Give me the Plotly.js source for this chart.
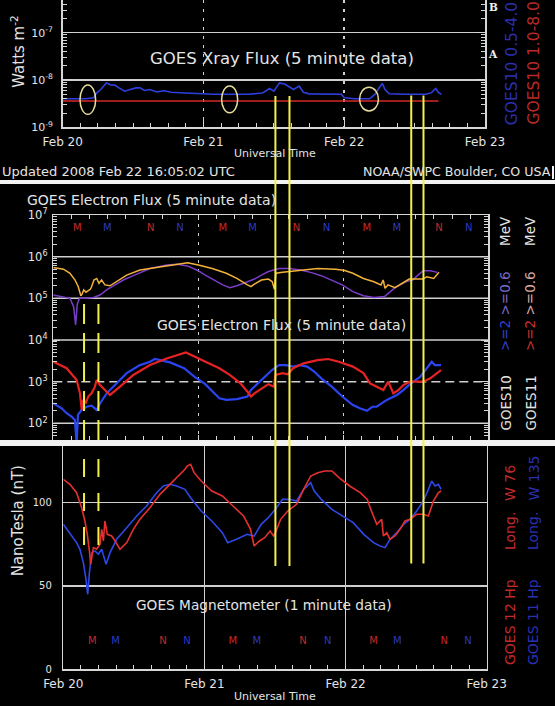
<!DOCTYPE html>
<html><head><meta charset="utf-8">
<script src="https://cdn.plot.ly/plotly-3.0.1.min.js"></script>
<style>html,body{margin:0;padding:0;background:#000;}#chart{width:555px;height:706px;}</style>
</head><body><div id="chart"></div>
<script>
// ---------- DATA (time = days since 2008 Feb 20 00:00 UT) ----------
const dayTicks = [0, 1, 2, 3];
const dayLabels = ['Feb 20', 'Feb 21', 'Feb 22', 'Feb 23'];

// GOES Xray flux (W m^-2)
const xrayShortTime = [0.00,0.16,0.22,0.24,0.27,0.29,0.31,0.34,0.37,0.40,0.44,0.48,0.52,0.55,0.58,0.62,0.67,0.72,0.77,0.87,0.97,1.07,1.20,1.32,1.42,1.47,1.50,1.54,1.58,1.61,1.64,1.68,1.71,1.75,1.88,1.98,2.00,2.08,2.18,2.22,2.24,2.27,2.29,2.32,2.43,2.58,2.62,2.65,2.67,2.69];
const xrayShort = [4.0e-9,4.0e-9,4.2e-9,5.3e-9,6.3e-9,7.6e-9,8.7e-9,7.9e-9,7.8e-9,6.8e-9,5.8e-9,6.3e-9,6.8e-9,6.8e-9,6.0e-9,6.3e-9,5.6e-9,5.9e-9,5.5e-9,5.3e-9,5.1e-9,5.0e-9,5.0e-9,5.0e-9,5.3e-9,6.6e-9,5.8e-9,8.7e-9,8.1e-9,7.1e-9,6.3e-9,7.4e-9,5.5e-9,5.1e-9,5.0e-9,5.0e-9,4.2e-9,4.0e-9,4.0e-9,5.0e-9,6.3e-9,8.5e-9,6.3e-9,5.1e-9,5.0e-9,5.0e-9,5.4e-9,6.6e-9,5.4e-9,5.0e-9];
const xrayLongTime = [0.00, 2.67];
const xrayLong = [3.6e-9, 3.6e-9];

// GOES electron flux
const e06G11Time = [0,0.07,0.115,0.15,0.172,0.19,0.2,0.21,0.225,0.241,0.255,0.264,0.28,0.299,0.315,0.333,0.356,0.391,0.437,0.506,0.598,0.713,0.828,0.926,1.0,1.096,1.193,1.266,1.339,1.363,1.387,1.435,1.484,1.51,1.525,1.535,1.581,1.654,1.726,1.823,1.945,2.005,2.066,2.139,2.211,2.26,2.275,2.288,2.308,2.357,2.405,2.454,2.503,2.551,2.575,2.624,2.66];
const e06G11 = [5.5e5,5.0e5,4.0e5,2.75e5,1.9e5,1.15e5,1.3e5,1.6e5,1.4e5,1.5e5,1.65e5,1.9e5,2.75e5,3.0e5,2.3e5,2.75e5,2.1e5,2.0e5,2.5e5,3.6e5,4.8e5,5.5e5,6.3e5,7.1e5,6.3e5,5.2e5,4.0e5,3.0e5,2.1e5,1.9e5,2.2e5,2.75e5,2.9e5,2.5e5,1.65e5,4.0e5,4.2e5,4.4e5,4.8e5,5.2e5,5.0e5,4.7e5,4.0e5,3.0e5,2.5e5,2.1e5,2.75e5,1.75e5,2.1e5,1.8e5,2.3e5,2.9e5,2.9e5,2.9e5,3.3e5,3.0e5,4.2e5];
const e06G10Time = [0,0.06,0.115,0.14,0.154,0.165,0.18,0.225,0.276,0.322,0.368,0.414,0.483,0.552,0.667,0.782,0.854,0.926,0.999,1.048,1.096,1.169,1.217,1.266,1.339,1.387,1.435,1.484,1.557,1.63,1.702,1.775,1.848,1.92,1.993,2.066,2.139,2.211,2.284,2.308,2.357,2.43,2.478,2.515,2.551,2.6,2.648];
const e06G10 = [1.2e5,1.1e5,1.0e5,6.3e4,2.3e4,7.1e4,1.0e5,1.0e5,1.05e5,1.2e5,1.6e5,2.0e5,2.75e5,3.5e5,5.2e5,6.3e5,6.6e5,6.0e5,4.6e5,3.6e5,2.9e5,2.1e5,1.8e5,2.0e5,2.5e5,2.9e5,3.6e5,4.4e5,5.2e5,5.2e5,4.8e5,4.2e5,3.5e5,2.75e5,2.1e5,1.45e5,1.15e5,1.05e5,1.1e5,1.3e5,1.8e5,2.5e5,2.75e5,3.6e5,4.6e5,4.6e5,4.2e5];
const e2G10Time = [0,0.058,0.092,0.126,0.149,0.155,0.161,0.17,0.196,0.23,0.264,0.299,0.322,0.368,0.437,0.506,0.598,0.667,0.70,0.805,0.902,0.975,1.048,1.096,1.145,1.193,1.266,1.339,1.363,1.411,1.46,1.508,1.557,1.605,1.654,1.702,1.751,1.799,1.848,1.92,1.993,2.066,2.114,2.163,2.2,2.23,2.3,2.37,2.414,2.46,2.53,2.575,2.61,2.63,2.674];
const e2G10 = [300,230,175,145,120,32,32,160,210,250,265,210,300,525,910,1600,2500,3000,3500,2900,2100,1300,870,575,400,365,380,440,630,910,1300,1900,2500,2500,2300,2500,2300,1750,1200,760,440,275,230,200,250,250,365,480,630,870,1300,2100,3000,2500,2500];
const e2G11Time = [0,0.092,0.161,0.184,0.196,0.207,0.225,0.241,0.264,0.287,0.299,0.322,0.356,0.391,0.46,0.552,0.667,0.782,0.914,0.975,1.048,1.145,1.217,1.29,1.339,1.363,1.387,1.435,1.484,1.52,1.533,1.581,1.617,1.654,1.726,1.823,1.896,1.969,2.066,2.139,2.184,2.207,2.25,2.276,2.31,2.345,2.38,2.414,2.46,2.55,2.60,2.674];
const e2G11 = [3000,2100,1100,525,210,365,315,440,525,760,1100,830,630,480,760,1450,2500,3600,5000,4000,3000,2100,1450,910,575,440,525,690,870,760,1450,1600,1500,2100,2750,3300,3500,3000,2300,1600,910,830,710,630,1000,525,630,830,1000,1000,1200,1900];
const electronGridSolid = [1e2, 1e4, 1e5, 1e6];
const electronGridDashed = [1e3];

// local midnight (M) / noon (N) markers
const elecRedMN = ['M','N','M','N','M','N'];
const elecRedMNTime = [0.166,0.672,1.169,1.678,2.163,2.66];
const elecBlueMN = ['M','N','M','N','M','N'];
const elecBlueMNTime = [0.372,0.874,1.375,1.884,2.369,2.866];
const elecMNLevel = 4.8e6;

// GOES magnetometer Hp (nT)
const magG12Time = [0,0.047,0.094,0.13,0.153,0.17,0.185,0.194,0.213,0.236,0.26,0.272,0.284,0.295,0.312,0.343,0.367,0.402,0.45,0.496,0.543,0.614,0.685,0.756,0.827,0.862,0.877,0.902,0.927,0.977,1.052,1.127,1.202,1.277,1.327,1.352,1.39,1.427,1.465,1.49,1.503,1.54,1.59,1.653,1.703,1.753,1.803,1.853,1.903,1.953,2.029,2.104,2.154,2.174,2.221,2.256,2.268,2.292,2.315,2.35,2.386,2.421,2.457,2.504,2.551,2.587,2.622,2.658,2.677];
const magG12 = [114,111,106,97,89,81,71,63,73,72,75,84,77,89,81,80,77,72,76,84,90,97,105,111,117,120,122,123,118,113,107,104,98,92,84,74,77,79,83,80,82,90,95,99,108,116,118,119,119,115,110,106,102,97,87,90,80,82,78,80,84,89,90,93,93,92,101,106,107];
const magG11Time = [0,0.024,0.059,0.094,0.118,0.142,0.161,0.173,0.185,0.201,0.225,0.248,0.272,0.303,0.331,0.378,0.449,0.52,0.59,0.661,0.709,0.756,0.803,0.862,0.902,0.977,1.052,1.127,1.165,1.227,1.302,1.352,1.402,1.452,1.503,1.553,1.603,1.653,1.703,1.753,1.778,1.828,1.903,1.978,2.054,2.129,2.198,2.245,2.28,2.315,2.363,2.41,2.457,2.504,2.551,2.587,2.61,2.634,2.658,2.677];
const magG11 = [87,84,80,76,72,64,54,45,58,70,71,69,72,63,70,78,85,92,98,106,110,111,110,108,103,95,89,82,76,78,81,80,87,91,96,102,102,101,108,112,107,102,96,92,88,81,76,74,73,78,82,87,90,95,101,108,113,110,111,108];
const magRedMN = ['M','N','M','N','M','N'];
const magRedMNTime = [0.206,0.707,1.202,1.698,2.199,2.70];
const magBlueMN = ['M','N','M','N','M','N'];
const magBlueMNTime = [0.371,0.877,1.372,1.873,2.367,2.868];
const magMNLevel = 16.6;

// hand-drawn annotation marks (days on the X-ray axis)
const markedTimes = [1.511, 1.611, 2.476, 2.563];
const dashedMarkTimes = [0.147, 0.249];
const circledIntervals = [[0.123, 0.234], [1.129, 1.243], [2.109, 2.243]];

// ---------- LAYOUT HELPERS ----------
const W = 555, H = 706;
const px = x => x / W, py = y => 1 - y / H;
const AX = '#d6d6d6', TXT = '#e4e4e4';
function logMinor(lo, hi) { const v = []; for (let d = lo; d <= hi; d++) for (let k = 2; k <= 9; k++) v.push(k * Math.pow(10, d)); return v; }
function hLines(levels) { const x = [], y = []; levels.forEach(v => { x.push(0, 3, null); y.push(v, v, null); }); return {x, y}; }
const gs = hLines(electronGridSolid), gd = hLines(electronGridDashed);

const traces = [
  {x: xrayLongTime, y: xrayLong, xaxis: 'x', yaxis: 'y', mode: 'lines', line: {color: '#d42a2a', width: 1.6}},
  {x: xrayShortTime, y: xrayShort, xaxis: 'x', yaxis: 'y', mode: 'lines', line: {color: '#2f3fe0', width: 1.6}},
  {x: gs.x, y: gs.y, xaxis: 'x2', yaxis: 'y2', mode: 'lines', line: {color: '#cfcfcf', width: 1.5}},
  {x: gd.x, y: gd.y, xaxis: 'x2', yaxis: 'y2', mode: 'lines', line: {color: '#cfcfcf', width: 1.5, dash: '9px,5px'}},
  {x: e06G10Time, y: e06G10, xaxis: 'x2', yaxis: 'y2', mode: 'lines', line: {color: '#7a3dc9', width: 1.5}},
  {x: e06G11Time, y: e06G11, xaxis: 'x2', yaxis: 'y2', mode: 'lines', line: {color: '#f2b13a', width: 1.5}},
  {x: e2G10Time, y: e2G10, xaxis: 'x2', yaxis: 'y2', mode: 'lines', line: {color: '#2a44f0', width: 2.2}},
  {x: e2G11Time, y: e2G11, xaxis: 'x2', yaxis: 'y2', mode: 'lines', line: {color: '#e62222', width: 2.2}},
  {x: elecRedMNTime, y: elecRedMNTime.map(() => elecMNLevel), text: elecRedMN, xaxis: 'x2', yaxis: 'y2', mode: 'text', textfont: {size: 10, color: '#c82a2a'}},
  {x: elecBlueMNTime, y: elecBlueMNTime.map(() => elecMNLevel), text: elecBlueMN, xaxis: 'x2', yaxis: 'y2', mode: 'text', textfont: {size: 10, color: '#2a3ac8'}},
  {x: magG11Time, y: magG11, xaxis: 'x3', yaxis: 'y3', mode: 'lines', line: {color: '#2e48e6', width: 1.6}},
  {x: magG12Time, y: magG12, xaxis: 'x3', yaxis: 'y3', mode: 'lines', line: {color: '#e63030', width: 1.6}},
  {x: magRedMNTime, y: magRedMNTime.map(() => magMNLevel), text: magRedMN, xaxis: 'x3', yaxis: 'y3', mode: 'text', textfont: {size: 10, color: '#c82a2a'}},
  {x: magBlueMNTime, y: magBlueMNTime.map(() => magMNLevel), text: magBlueMN, xaxis: 'x3', yaxis: 'y3', mode: 'text', textfont: {size: 10, color: '#2a3ac8'}}
];
traces.forEach(t => { t.hoverinfo = 'skip'; t.showlegend = false; });

const minorX = {dtick: 0.125, ticks: 'inside', ticklen: 4, tickcolor: AX, tickwidth: 1, showgrid: false};
const common = {showline: true, linecolor: AX, linewidth: 1.5, zeroline: false, tickcolor: AX, fixedrange: true};

const shapes = [];
// panel separators
shapes.push({type: 'rect', xref: 'paper', yref: 'paper', x0: 0, x1: 1, y0: py(184), y1: py(180), fillcolor: '#f2f2f2', line: {width: 0}});
shapes.push({type: 'rect', xref: 'paper', yref: 'paper', x0: 0, x1: 1, y0: py(446), y1: py(440), fillcolor: '#f2f2f2', line: {width: 0}});
shapes.push({type: 'rect', xref: 'paper', yref: 'paper', x0: px(552), x1: px(554), y0: py(179), y1: py(166), fillcolor: '#f2f2f2', line: {width: 0}});
// circled quiet intervals
circledIntervals.forEach(([a, b], i) => {
  const top = [85, 86, 87.3][i], bot = [114.3, 112.7, 111][i];
  shapes.push({type: 'circle', xref: 'x', yref: 'paper', x0: a, x1: b, y0: py(bot), y1: py(top), line: {color: '#e6dc9c', width: 1.5}});
});
// solid yellow marks
markedTimes.forEach((t, i) => {
  const top = i < 2 ? 96 : 95.5, bot = i < 2 ? 566 : 563.5;
  shapes.push({type: 'line', xref: 'x', yref: 'paper', x0: t, x1: t, y0: py(bot), y1: py(top), line: {color: '#f4f04a', width: 2}});
});
// dashed yellow marks
dashedMarkTimes.forEach(t => {
  shapes.push({type: 'line', xref: 'x3', yref: 'paper', x0: t, x1: t, y0: py(440), y1: py(299), line: {color: '#f4f04a', width: 2, dash: '20px,9px'}});
  shapes.push({type: 'line', xref: 'x3', yref: 'paper', x0: t, x1: t, y0: py(545), y1: py(458), line: {color: '#f4f04a', width: 2, dash: '18px,16px'}});
});

function ann(text, x, y, o) { return Object.assign({text, x: px(x), y: py(y), xref: 'paper', yref: 'paper', showarrow: false, xanchor: 'center', yanchor: 'middle', font: {size: 13, color: TXT}}, o || {}); }
const rot = (text, x, yb, color, size) => ann(text, x, yb, {textangle: -90, yanchor: 'bottom', font: {size: size || 14, color}});

const annotations = [
  ann('GOES Xray Flux (5 minute data)', 282, 58.3, {font: {size: 16.5, color: TXT}}),
  ann('Universal Time', 274.7, 153.7, {font: {size: 11, color: TXT}}),
  ann('Updated 2008 Feb 22 16:05:02 UTC', 0, 172, {xanchor: 'left', font: {size: 13, color: TXT}}),
  ann('NOAA/SWPC Boulder, CO USA', 553, 172, {xanchor: 'right', font: {size: 12.6, color: TXT}}),
  ann('Watts m<sup>-2</sup>', 17.3, 51.5, {textangle: -90, font: {size: 15, color: TXT}}),
  ann('<b>B</b>', 493, 7, {font: {size: 10.5, color: '#f0f0f0', family: 'DejaVu Serif'}}),
  ann('<b>A</b>', 493, 54, {font: {size: 10.5, color: '#f0f0f0', family: 'DejaVu Serif'}}),
  rot('GOES10 0.5-4.0 Å', 511.7, 127, '#2b2fae', 15.5),
  rot('GOES10 1.0-8.0 Å', 533, 127, '#b82828', 15.5),
  ann('GOES Electron Flux (5 minute data)', 25, 200, {xanchor: 'left', font: {size: 14, color: TXT}}),
  ann('GOES Electron Flux (5 minute data)', 281.6, 325, {font: {size: 14, color: TXT}}),
  rot('GOES10', 505, 433, TXT, 13.5),
  rot("<span style='color:#3040d0'>&gt;=2</span> <span style='color:#7a6ac8'>&gt;=0.6</span>", 505, 353, TXT, 13.5),
  rot('MeV', 505, 248, TXT, 13.5),
  rot('GOES11', 530, 433, TXT, 13.5),
  rot("<span style='color:#c83030'>&gt;=2</span> <span style='color:#d8aaa2'>&gt;=0.6</span>", 530, 353, TXT, 13.5),
  rot('MeV', 530, 248, TXT, 13.5),
  ann('GOES Magnetometer (1 minute data)', 264, 605, {font: {size: 13.7, color: TXT}}),
  ann('Universal Time', 274.6, 696, {font: {size: 11, color: TXT}}),
  ann('NanoTesla (nT)', 18.3, 521, {textangle: -90, font: {size: 15, color: TXT}}),
  rot('GOES 12 Hp', 510, 667, '#c02a2a'),
  rot('Long.', 510, 552, '#c02a2a'),
  rot('W 76', 510, 503, '#c02a2a'),
  rot('GOES 11 Hp', 533, 667, '#2a30b0'),
  rot('Long.', 533, 552, '#2a30b0'),
  rot('W 135', 533, 503, '#2a30b0')
];

const layout = {
  width: W, height: H, autosize: false,
  margin: {l: 0, r: 0, t: 0, b: 0, pad: 0},
  paper_bgcolor: '#000', plot_bgcolor: '#000',
  font: {family: 'DejaVu Sans', color: TXT},
  hovermode: false, showlegend: false,
  xaxis: Object.assign({}, common, {domain: [px(62.7), px(485)], range: [0, 3], anchor: 'y', tickvals: dayTicks, ticktext: dayLabels, ticks: 'inside', ticklen: 7, minor: minorX, showgrid: true, gridcolor: '#cfcfcf', gridwidth: 1.5, griddash: '3px,6px', tickfont: {size: 12, color: TXT}, ticklabelstandoff: 3}),
  yaxis: Object.assign({}, common, {domain: [py(127.3), 1], type: 'log', range: [-9, -6.309], anchor: 'x', mirror: 'allticks', tickvals: [1e-9, 1e-8, 1e-7], ticktext: ['10<sup>-9</sup>', '10<sup>-8</sup>', '10<sup>-7</sup>'], ticks: 'inside', ticklen: 8, minor: {tickvals: logMinor(-9, -7), ticks: 'inside', ticklen: 4, tickcolor: AX, showgrid: false}, showgrid: true, gridcolor: '#cfcfcf', gridwidth: 1.5, tickfont: {size: 11, color: TXT}, ticklabelstandoff: 6}),
  xaxis2: Object.assign({}, common, {domain: [px(53.3), px(488.3)], range: [0, 3], anchor: 'y2', mirror: 'allticks', tickvals: dayTicks, showticklabels: false, ticks: 'inside', ticklen: 5, minor: minorX, showgrid: true, gridcolor: '#cfcfcf', gridwidth: 1.5, griddash: '3px,6px'}),
  yaxis2: Object.assign({}, common, {domain: [py(440), py(215)], type: 'log', range: [1.6, 7], anchor: 'x2', mirror: 'allticks', tickvals: [1e2, 1e3, 1e4, 1e5, 1e6, 1e7], ticktext: ['10<sup>2</sup>', '10<sup>3</sup>', '10<sup>4</sup>', '10<sup>5</sup>', '10<sup>6</sup>', '10<sup>7</sup>'], ticks: 'inside', ticklen: 7, minor: {tickvals: logMinor(1, 6), ticks: 'inside', ticklen: 4, tickcolor: AX, showgrid: false}, showgrid: false, tickfont: {size: 11.5, color: TXT}, ticklabelstandoff: 2}),
  xaxis3: Object.assign({}, common, {domain: [px(63.3), px(486.7)], range: [0, 3], anchor: 'y3', mirror: true, tickvals: dayTicks, ticktext: dayLabels, ticks: 'inside', ticklen: 4, minor: minorX, showgrid: true, gridcolor: '#cfcfcf', gridwidth: 1.5, tickfont: {size: 12, color: TXT}, ticklabelstandoff: 3}),
  yaxis3: Object.assign({}, common, {domain: [py(669.3), py(446)], range: [0, 134], anchor: 'x3', mirror: true, tickvals: [0, 50, 100], ticks: '', showgrid: true, gridcolor: '#cfcfcf', gridwidth: 1.5, tickfont: {size: 10, color: TXT}, ticklabelstandoff: 8}),
  shapes, annotations
};

Plotly.newPlot('chart', traces, layout, {staticPlot: true, displayModeBar: false});
</script></body></html>
